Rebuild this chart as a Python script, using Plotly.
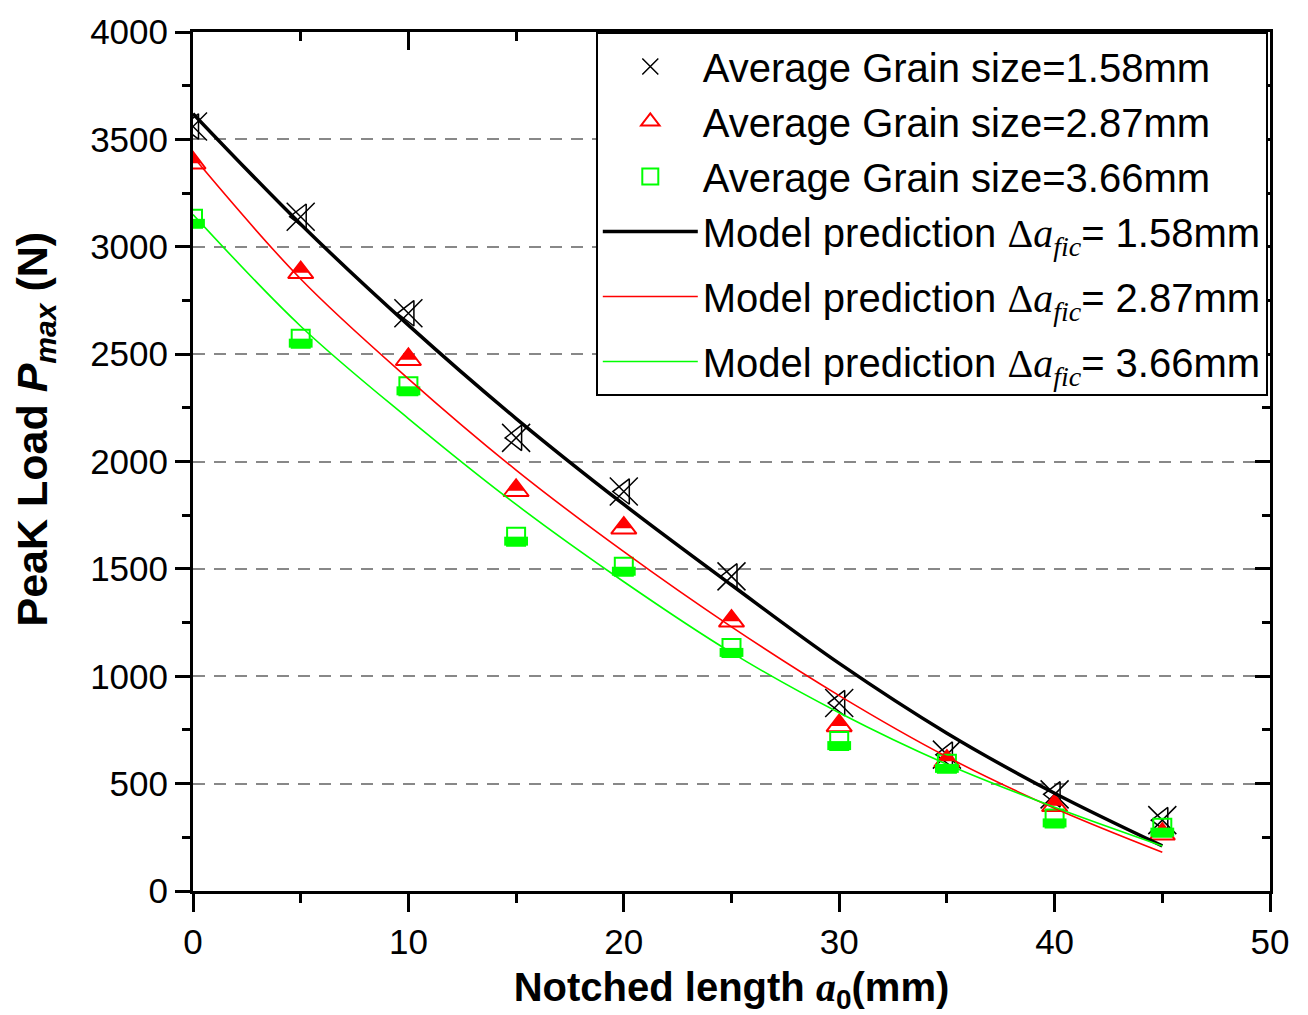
import plotly.graph_objects as go

# ---------------- data ----------------
notch = [0, 5, 10, 15, 20, 25, 30, 35, 40, 45]

exp_158 = [3560, 3140, 2690, 2110, 1860, 1465, 875, 635, 450, 330]
exp_287 = [3390, 2880, 2475, 1865, 1690, 1257, 770, 605, 398, 265]
exp_366 = [3130, 2572, 2350, 1650, 1510, 1132, 698, 592, 338, 295]

model_x = [0, 5, 10, 15, 20, 25, 30, 35, 40, 45]
model_158 = [3620, 3105, 2635, 2200, 1800, 1425, 1060, 735, 455, 210]
model_287 = [3420, 2850, 2385, 1960, 1580, 1230, 910, 625, 385, 180]
model_366 = [3150, 2630, 2200, 1800, 1440, 1110, 830, 590, 390, 210]

x_ticks = [0, 10, 20, 30, 40, 50]
y_ticks = [0, 500, 1000, 1500, 2000, 2500, 3000, 3500, 4000]

RED = "#FF0000"
GREEN = "#00FF00"
SANS = "Liberation Sans, Arial, sans-serif"
SERIF = "Liberation Serif"

def model_name(v):
    return ("Model prediction <span style=\"font-family:'%s'\">Δ<i>a</i></span>"
            "<sub><span style=\"font-family:'%s'\"><i>fic</i></span></sub>= %smm") % (SERIF, SERIF, v)

fig = go.Figure()

# black: X + left triangle
fig.add_trace(go.Scatter(x=notch, y=exp_158, mode="markers", name="Average Grain size=1.58mm",
                         legendgroup="g1",
                         marker=dict(symbol="x-thin-open", size=28, color="black",
                                     line=dict(color="black", width=1.5))))
fig.add_trace(go.Scatter(x=notch, y=exp_158, mode="markers", showlegend=False, legendgroup="g1",
                         marker=dict(symbol="triangle-left-open", size=22, color="black",
                                     line=dict(color="black", width=1.5))))
# red: half-filled up triangle
fig.add_trace(go.Scatter(x=notch, y=exp_287, mode="markers", name="Average Grain size=2.87mm",
                         legendgroup="g1",
                         marker=dict(symbol="triangle-up-open", size=22, color=RED,
                                     line=dict(color=RED, width=2))))
fig.add_trace(go.Scatter(x=notch, y=exp_287, mode="markers", showlegend=False, legendgroup="g1",
                         marker=dict(symbol="triangle-down", size=15, color=RED, angle=180, standoff=3.5,
                                     line=dict(width=0))))
# green: half-filled square
fig.add_trace(go.Scatter(x=notch, y=exp_366, mode="markers", name="Average Grain size=3.66mm",
                         legendgroup="g1",
                         marker=dict(symbol="square-open", size=18, color=GREEN,
                                     line=dict(color=GREEN, width=2))))
fig.add_trace(go.Scatter(x=notch, y=exp_366, mode="markers", showlegend=False, legendgroup="g1",
                         marker=dict(symbol="line-ew", size=17, color=GREEN, angle=0, standoff=4.5,
                                     line=dict(color=GREEN, width=9))))

# model curves
fig.add_trace(go.Scatter(x=model_x, y=model_158, mode="lines", name=model_name("1.58"),
                         legendgroup="g1",
                         line=dict(color="black", width=3.5, shape="spline")))
fig.add_trace(go.Scatter(x=model_x, y=model_287, mode="lines", name=model_name("2.87"),
                         legendgroup="g2",
                         line=dict(color=RED, width=1.6, shape="spline")))
fig.add_trace(go.Scatter(x=model_x, y=model_366, mode="lines", name=model_name("3.66"),
                         legendgroup="g3",
                         line=dict(color=GREEN, width=1.6, shape="spline")))

# helper trace for mirrored axes (top/right, inward ticks)
fig.add_trace(go.Scatter(x=[], y=[], xaxis="x2", yaxis="y2", showlegend=False, hoverinfo="skip"))

tickfont = dict(family=SANS, size=35, color="black")

fig.update_layout(
    width=1308, height=1015,
    margin=dict(l=193, r=38, t=27, b=120),
    paper_bgcolor="white", plot_bgcolor="white",
    showlegend=True,
    legend=dict(x=0.374, y=1, xanchor="left", yanchor="top",
                bgcolor="white", bordercolor="black", borderwidth=2,
                font=dict(family=SANS, size=40, color="black"),
                itemwidth=95, tracegroupgap=10, traceorder="grouped",
                groupclick="toggleitem"),
    xaxis=dict(range=[0, 50], tickvals=x_ticks, ticktext=[str(v) for v in x_ticks],
               ticks="outside", ticklen=18, tickwidth=2.5, tickcolor="black",
               minor=dict(dtick=5, tick0=0, ticks="outside", ticklen=9, tickwidth=2.5, tickcolor="black", showgrid=False),
               showline=True, linewidth=3, linecolor="black", showgrid=False, zeroline=False,
               tickfont=tickfont,
               title=dict(text="<b>Notched length <span style=\"font-family:'%s'\"><i>a</i></span><sub>0</sub>(mm)</b>" % SERIF,
                          font=dict(family=SANS, size=40, color="black"), standoff=14)),
    yaxis=dict(range=[0, 4000], tickvals=y_ticks, ticktext=[str(v) for v in y_ticks],
               ticks="outside", ticklen=15, tickwidth=2.5, tickcolor="black",
               minor=dict(dtick=250, tick0=0, ticks="outside", ticklen=8, tickwidth=2.5, tickcolor="black", showgrid=False),
               showline=True, linewidth=3, linecolor="black", zeroline=False,
               showgrid=True, gridcolor="#888888", gridwidth=2, griddash="12px,9px",
               tickfont=tickfont),
    xaxis2=dict(range=[0, 50], overlaying="x", side="top", anchor="y2",
                tickvals=x_ticks, ticks="inside", ticklen=18, tickwidth=2.5, tickcolor="black",
                minor=dict(dtick=5, tick0=0, ticks="inside", ticklen=9, tickwidth=2.5, tickcolor="black"),
                showticklabels=False, showline=True, linewidth=3, linecolor="black",
                showgrid=False, zeroline=False),
    yaxis2=dict(range=[0, 4000], overlaying="y", side="right", anchor="x2",
                tickvals=y_ticks, ticks="inside", ticklen=15, tickwidth=2.5, tickcolor="black",
                minor=dict(dtick=250, tick0=0, ticks="inside", ticklen=8, tickwidth=2.5, tickcolor="black"),
                showticklabels=False, showline=True, linewidth=3, linecolor="black",
                showgrid=False, zeroline=False),
    annotations=[dict(text="<b>PeaK Load <i>P</i><sub><i>max</i></sub> (N)</b>",
                      xref="paper", yref="paper", x=-0.147, y=0.538,
                      xanchor="center", yanchor="middle", textangle=-90, showarrow=False,
                      font=dict(family=SANS, size=43, color="black"))],
)

fig.write_html("out.html")
